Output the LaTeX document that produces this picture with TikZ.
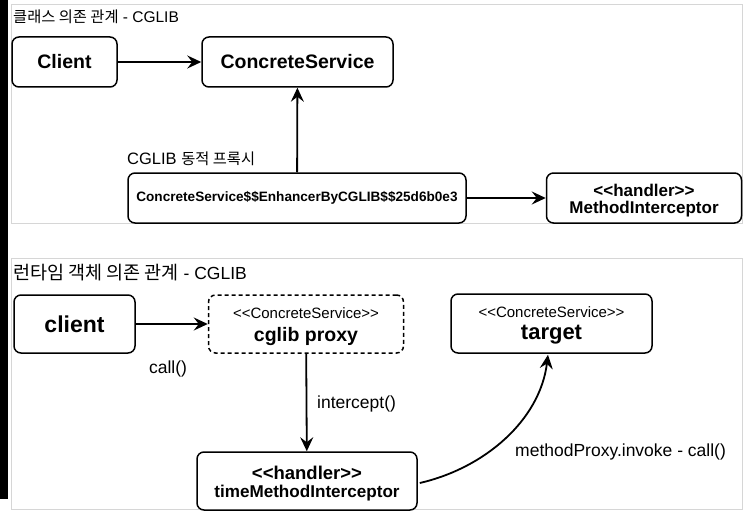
\documentclass[tikz,border=0pt]{standalone}
\usepackage{fontspec}
\usetikzlibrary{arrows.meta,calc}
\newfontfamily\hv{Liberation Sans}
\newfontfamily\kr{Noto Sans CJK KR}
\newcommand{\fsz}[1]{\fontsize{#1}{#1}\selectfont}
\begin{document}
\begin{tikzpicture}[x=1pt,y=-1pt,
  panel/.style={draw=black!16,line width=0.9},
  box/.style={draw=black,line width=1.5,rounded corners=7,inner sep=0,fill=white,font=\hv},
  dbox/.style={box,dash pattern=on 4pt off 3pt},
  txt/.style={inner sep=0,font=\hv},
  arr/.style={line width=1.8,-{Stealth[length=14,width=13,inset=5]}},
]
\useasboundingbox (0,0) rectangle (750,519);
\fill[white] (0,0) rectangle (750,519);
% left edge strip
\fill[black] (0,0) rectangle (8,499);

% ---------- class dependencies ----------
\draw[panel] (11,4) rectangle (742,223);
\node[txt,anchor=west] (title1) at (13,17)
  {{\kr\fsz{15.3}클래스 의존 관계}{\fsz{15.5} - CGLIB}};

\node[box,minimum width=105,minimum height=50] (client1) at (64.5,62)
  {\bfseries\fsz{19.5}Client};
\node[box,minimum width=191,minimum height=50] (cs) at (297.5,62)
  {\bfseries\fsz{19.5}ConcreteService};
\node[box,minimum width=338,minimum height=50] (proxy1) at (297,198)
  {\bfseries\fsz{13.6}ConcreteService\$\$EnhancerByCGLIB\$\$25d6b0e3};
\node[box,minimum width=195,minimum height=50] (mi) at (644,198) {};
\node[txt] (miStereo) at (644,190) {\bfseries\fsz{17}<<handler>>};
\node[txt] (miName) at (644,209) {\bfseries\fsz{17}MethodInterceptor};
\node[txt,anchor=west] (dynLabel) at (127,159)
  {{\fsz{16.5}CGLIB }{\kr\fsz{15.3}동적 프록시}};

\draw[arr] (client1) -- (cs);
\draw[arr] (proxy1) -- (cs);
\draw[arr] (proxy1) -- (mi);

% ---------- runtime object dependencies ----------
\draw[panel] (11,258) rectangle (742,509);
\node[txt,anchor=west] (title2) at (13,273)
  {{\kr\fsz{18.5}런타임 객체 의존 관계}{\fsz{17.5} - CGLIB}};

\node[box,minimum width=121,minimum height=58] (client2) at (74.5,324)
  {\bfseries\fsz{23}client};
\node[dbox,minimum width=195,minimum height=58] (proxy2) at (306,324) {};
\node[txt] (proxyStereo) at (306,313) {\fsz{15}<<ConcreteService>>};
\node[txt] (proxyName) at (306,336) {\bfseries\fsz{19.5}cglib proxy};
\node[box,minimum width=201,minimum height=59] (target) at (551.5,323.5) {};
\node[txt] (targetStereo) at (551.5,312) {\fsz{15}<<ConcreteService>>};
\node[txt] (targetName) at (551.5,335) {\bfseries\fsz{22}target};
\node[box,minimum width=220,minimum height=58] (handler) at (307,481) {};
\node[txt] (handlerStereo) at (307,473) {\bfseries\fsz{18.5}<<handler>>};
\node[txt] (handlerName) at (307,493) {\bfseries\fsz{17.1}timeMethodInterceptor};

\draw[arr] (client2) -- (proxy2);
\draw[arr] (proxy2) -- (handler);
\draw[arr] ($(handler.east)+(2,2)$) .. controls (485,468) and (540,420) .. ($(target.south)+(-3.5,1)$);

\node[txt] (callLabel) at (168,369) {\fsz{17.5}call()};
\node[txt,anchor=west] (interceptLabel) at (317,404) {\fsz{17.5}intercept()};
\node[txt,anchor=west] (invokeLabel) at (515,452) {\fsz{17.5}methodProxy.invoke - call()};
\end{tikzpicture}
\end{document}
